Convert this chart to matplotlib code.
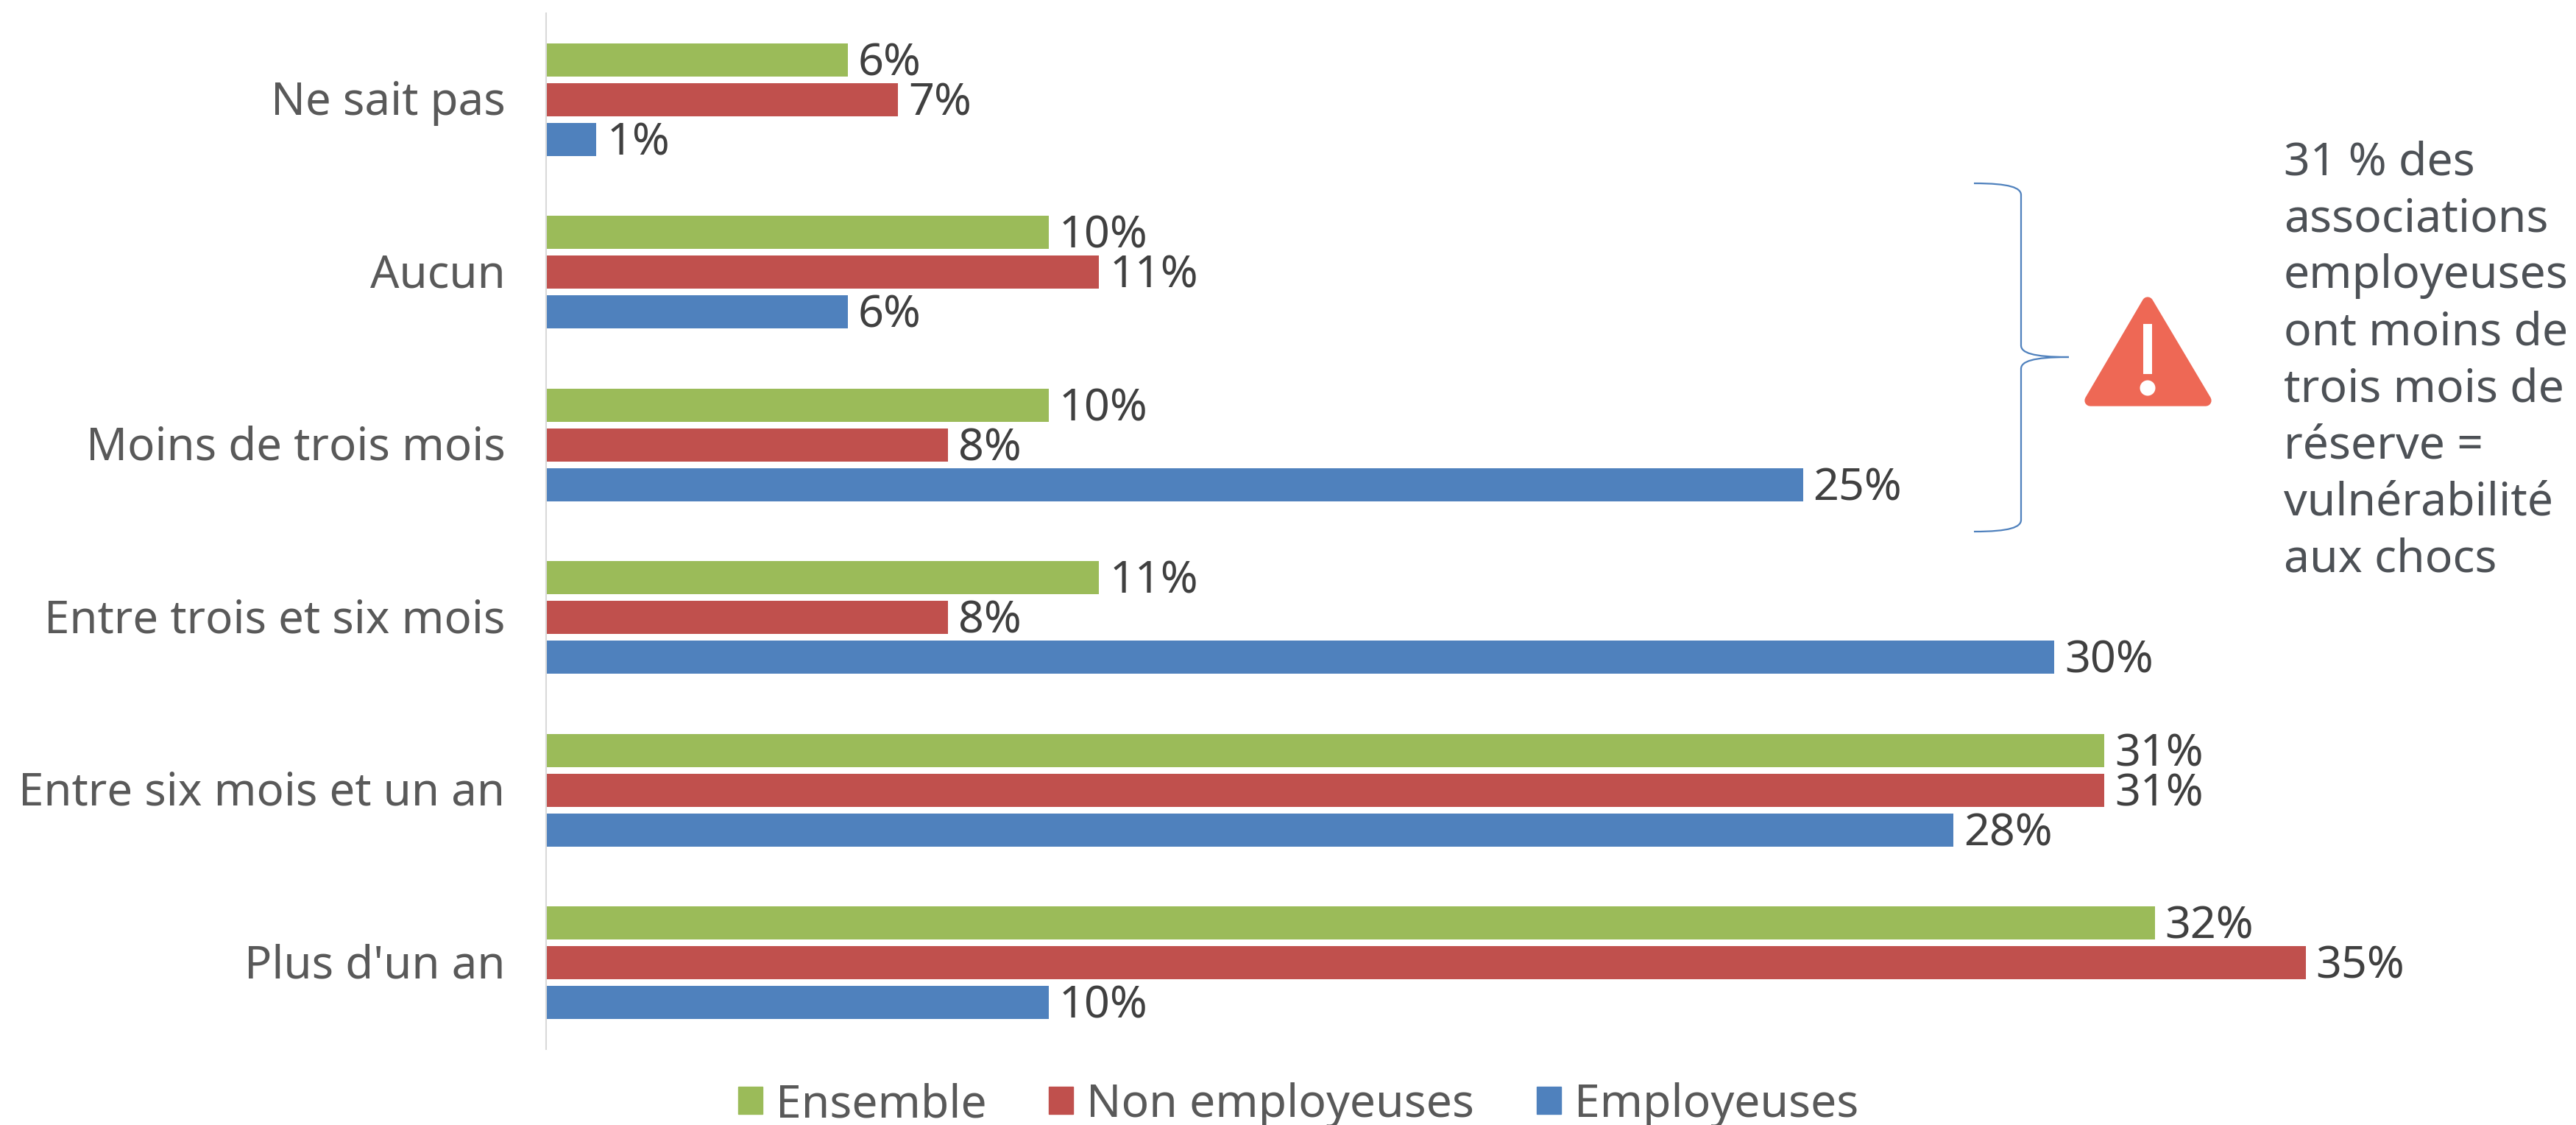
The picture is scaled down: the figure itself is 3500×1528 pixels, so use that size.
import matplotlib
matplotlib.use('Agg')
import matplotlib.pyplot as plt
from matplotlib.patches import Patch, PathPatch, Polygon, Ellipse, Rectangle
from matplotlib.path import Path
from matplotlib.transforms import ScaledTranslation
import numpy as np

plt.rcParams['font.family'] = ['Noto Sans', 'DejaVu Sans']

categories = ['Ne sait pas', 'Aucun', 'Moins de trois mois', 'Entre trois et six mois',
              'Entre six mois et un an', "Plus d'un an"]
ensemble = [6, 10, 10, 11, 31, 32]
non_employeuses = [7, 11, 8, 8, 31, 35]
employeuses = [1, 6, 25, 30, 28, 10]
note = ['31 % des', 'associations', 'employeuses', 'ont moins de', 'trois mois de',
        'réserve =', 'vulnérabilité', 'aux chocs']

W, H = 3500, 1528
green, red, blue = '#9BBB59', '#C0504D', '#4F81BD'

fig = plt.figure(figsize=(W/100, H/100), dpi=100)
ax = fig.add_axes([742/W, 1-1425/H, 1-742/W, (1425-18)/H])

y = np.arange(len(categories))
bar_h = 45/234.5
step = 54/234.5
b1 = ax.barh(y-step, ensemble, bar_h, color=green, label='Ensemble')
b2 = ax.barh(y, non_employeuses, bar_h, color=red, label='Non employeuses')
b3 = ax.barh(y+step, employeuses, bar_h, color=blue, label='Employeuses')
for b in (b1, b2, b3):
    labels = ax.bar_label(b, fmt='%d%%', padding=10, fontsize=44, color='#404040')
    for t in labels:
        t.xyann = (10, -4)  # sits a bit lower than centre in the original

ax.set_xlim(0, (W-742)/68.3)
ax.set_ylim(5.5, -0.5)
ax.set_yticks(y, categories)
ax.set_xticks([])
ax.tick_params(axis='y', length=0, pad=40, labelsize=44.5, labelcolor='#595959')
# nudge the category labels up a little
nudge = ScaledTranslation(0, 3/100, fig.dpi_scale_trans)
for t in ax.get_yticklabels():
    t.set_transform(t.get_transform() + nudge)
for s in ['top', 'right', 'bottom']:
    ax.spines[s].set_visible(False)
ax.spines['left'].set_color('#D9D9D9')
ax.spines['left'].set_linewidth(1.5)

# legend under the plot
handles = [Patch(color=green), Patch(color=red), Patch(color=blue)]
fig.legend(handles, ['Ensemble', 'Non employeuses', 'Employeuses'], ncol=3, frameon=False,
           loc='center', bbox_to_anchor=(1764/W, 1-1501/H), fontsize=45, labelcolor='#595959',
           handlelength=0.53, handleheight=0.53, handletextpad=0.29, columnspacing=1.35,
           borderpad=0, borderaxespad=0)

# overlay in pixels for the brace, warning sign and note
ov = fig.add_axes([0, 0, 1, 1])
ov.set_xlim(0, W)
ov.set_ylim(H, 0)
ov.axis('off')

xa, xb, xt = 2682, 2746, 2811
top, mid, bot = 249, 485, 722
verts = [(xa, top), (xb-15, top), (xb, top+6), (xb, top+16), (xb, mid-16),
         (xb, mid-6), (xb+15, mid), (xt, mid), (xb+15, mid), (xb, mid+6), (xb, mid+16),
         (xb, bot-16), (xb, bot-6), (xb-15, bot), (xa, bot)]
codes = [Path.MOVETO, Path.CURVE4, Path.CURVE4, Path.CURVE4, Path.LINETO,
         Path.CURVE4, Path.CURVE4, Path.CURVE4, Path.CURVE4, Path.CURVE4, Path.CURVE4,
         Path.LINETO, Path.CURVE4, Path.CURVE4, Path.CURVE4]
ov.add_patch(PathPatch(Path(verts, codes), fc='none', ec=blue, lw=1.6))

sign = '#EE6855'
ov.add_patch(Polygon([(2918, 411), (2997, 544), (2840, 544)], closed=True, fc=sign, ec=sign,
                     lw=11, joinstyle='round'))
ov.add_patch(Rectangle((2912, 440), 12, 68, fc='white', ec='none'))
ov.add_patch(Ellipse((2918, 527), 21, 21, fc='white', ec='none'))

for i, line in enumerate(note):
    ov.text(3103, 237+i*77.1, line, fontsize=45, color='#4D5156', va='baseline', ha='left')

fig.savefig('out.png', dpi=100)
